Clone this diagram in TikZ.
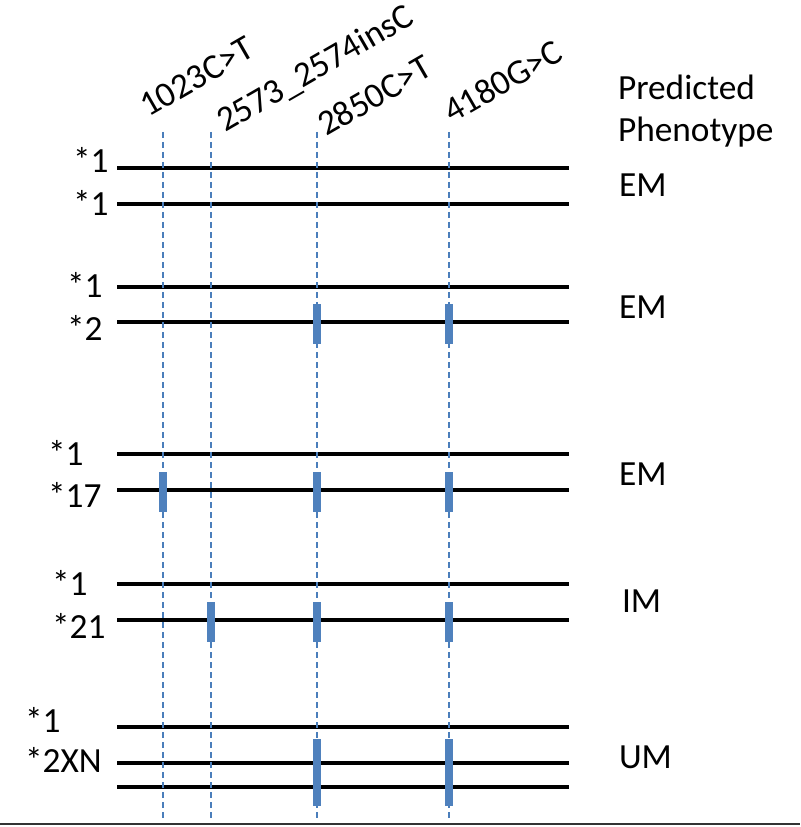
\documentclass[tikz,border=0pt]{standalone}
\usepackage{fontspec}
\setmainfont{Carlito}
\definecolor{snpblue}{HTML}{4F81BD}
\definecolor{dashblue}{HTML}{4A7EBB}
\definecolor{rulegray}{HTML}{333333}
\begin{document}
\begin{tikzpicture}[x=0.75pt,y=-0.75pt,
  lbl/.style={anchor=base west,inner sep=0,outer sep=0,font=\fontsize{26.5}{31}\selectfont},
  snplbl/.style={lbl,rotate=30},
  allele/.style={line width=3pt,black},
  guide/.style={dashblue,line width=0.9pt,dash pattern=on 4.5pt off 3pt},
  snp/.style={fill=snpblue,draw=none,minimum width=6pt,minimum height=30pt,inner sep=0,outer sep=0},
  snpbig/.style={snp,minimum height=50pt}]
\useasboundingbox (0,0) rectangle (800,827);

% SNP labels
\node[snplbl] (l1) at (148,118) {1023C>T};
\node[snplbl] (l2) at (225,133) {2573\_2574insC};
\node[snplbl] (l3) at (326,137) {2850C>T};
\node[snplbl] (l4) at (452,124) {4180G>C};
\node[lbl] (ph1) at (618,100) {Predicted};
\node[lbl] (ph2) at (618,142) {Phenotype};

% allele lines
\foreach \n/\y in {a1/168,a2/204,b1/287,b2/322,c1/454,c2/490,d1/584,d2/620,e1/727,e2/763,e3/787}{
  \coordinate (\n L) at (117,\y);
  \coordinate (\n R) at (569,\y);
  \draw[allele] (\n L) -- (\n R);
}

% guide lines
\foreach \n/\x in {g1/163,g2/211,g3/317,g4/449}{
  \coordinate (\n T) at (\x,132);
  \coordinate (\n B) at (\x,822);
  \draw[guide] (\n T) -- (\n B);
}

% markers
\node[snp] (m1) at (317,324) {};
\node[snp] (m2) at (449,324) {};
\node[snp] (m3) at (163,492) {};
\node[snp] (m4) at (317,492) {};
\node[snp] (m5) at (449,492) {};
\node[snp] (m6) at (211,622) {};
\node[snp] (m7) at (317,622) {};
\node[snp] (m8) at (449,622) {};
\node[snpbig] (m9) at (317,772.5) {};
\node[snpbig] (m10) at (449,772.5) {};

% allele labels
\node[lbl] (t1) at (73,173) {*1};
\node[lbl] (t2) at (73,215) {*1};
\node[lbl] (t3) at (67,297) {*1};
\node[lbl] (t4) at (67,340) {*2};
\node[lbl] (t5) at (48,465) {*1};
\node[lbl] (t6) at (48,507) {*17};
\node[lbl] (t7) at (52,595) {*1};
\node[lbl] (t8) at (52,638) {*21};
\node[lbl] (t9) at (25,732) {*1};
\node[lbl] (t10) at (25,772) {*2XN};

% phenotypes
\node[lbl] (p1) at (619,197) {EM};
\node[lbl] (p2) at (619,318) {EM};
\node[lbl] (p3) at (619,485) {EM};
\node[lbl] (p4) at (622,612) {IM};
\node[lbl] (p5) at (619,768) {UM};

% bottom rule
\coordinate (rl) at (0,824);
\coordinate (rr) at (800,824);
\draw[rulegray,line width=1.5pt] (rl) -- (rr);
\end{tikzpicture}
\end{document}
